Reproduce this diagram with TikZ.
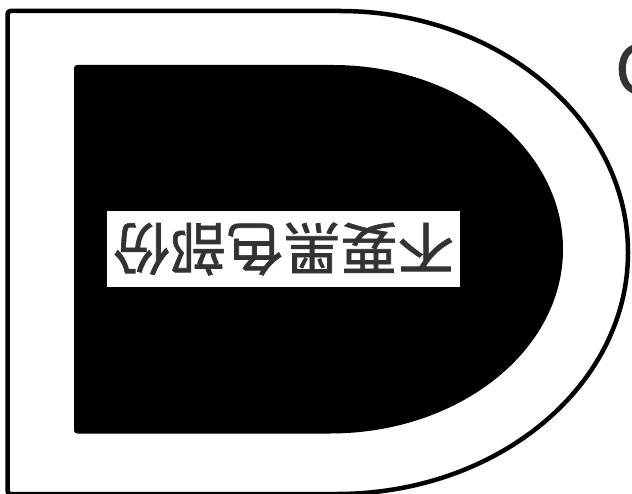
\documentclass[tikz,border=0pt]{standalone}
\usepackage{fontspec}
\newfontfamily\cjkfont[FakeBold=1.2]{Noto Sans CJK TC}
\definecolor{textgray}{HTML}{333333}
\begin{document}
\begin{tikzpicture}[x=1pt,y=1pt]
    % Frame of the picture
    \useasboundingbox (0,0) rectangle (632,493);

    % Outer D outline
    \draw[line width=4.5pt, rounded corners=3pt] (337,-1) -- (7.5,-1) -- (7.5,482) -- (337,482)
        [sharp corners] arc[start angle=90, end angle=-90, x radius=291pt, y radius=241.5pt] -- cycle;

    % Inner black D
    \fill[black, rounded corners=3pt] (330,59.5) -- (74,59.5) -- (74,428) -- (330,428)
        [sharp corners] arc[start angle=90, end angle=-90, x radius=233pt, y radius=184.25pt] -- cycle;

    % Upside-down label on white box
    \node[fill=white, rotate=180, minimum width=353pt, minimum height=76pt, inner sep=0pt,
          text=textgray, font=\cjkfont\fontsize{57}{57}\selectfont] (label) at (283.5,244) {不要黑色部份};

    % Letter cut off at the right edge
    \node[anchor=west, inner sep=0pt, text=textgray, font=\cjkfont\fontsize{67}{67}\selectfont] (letter) at (615,424) {C};
\end{tikzpicture}
\end{document}
